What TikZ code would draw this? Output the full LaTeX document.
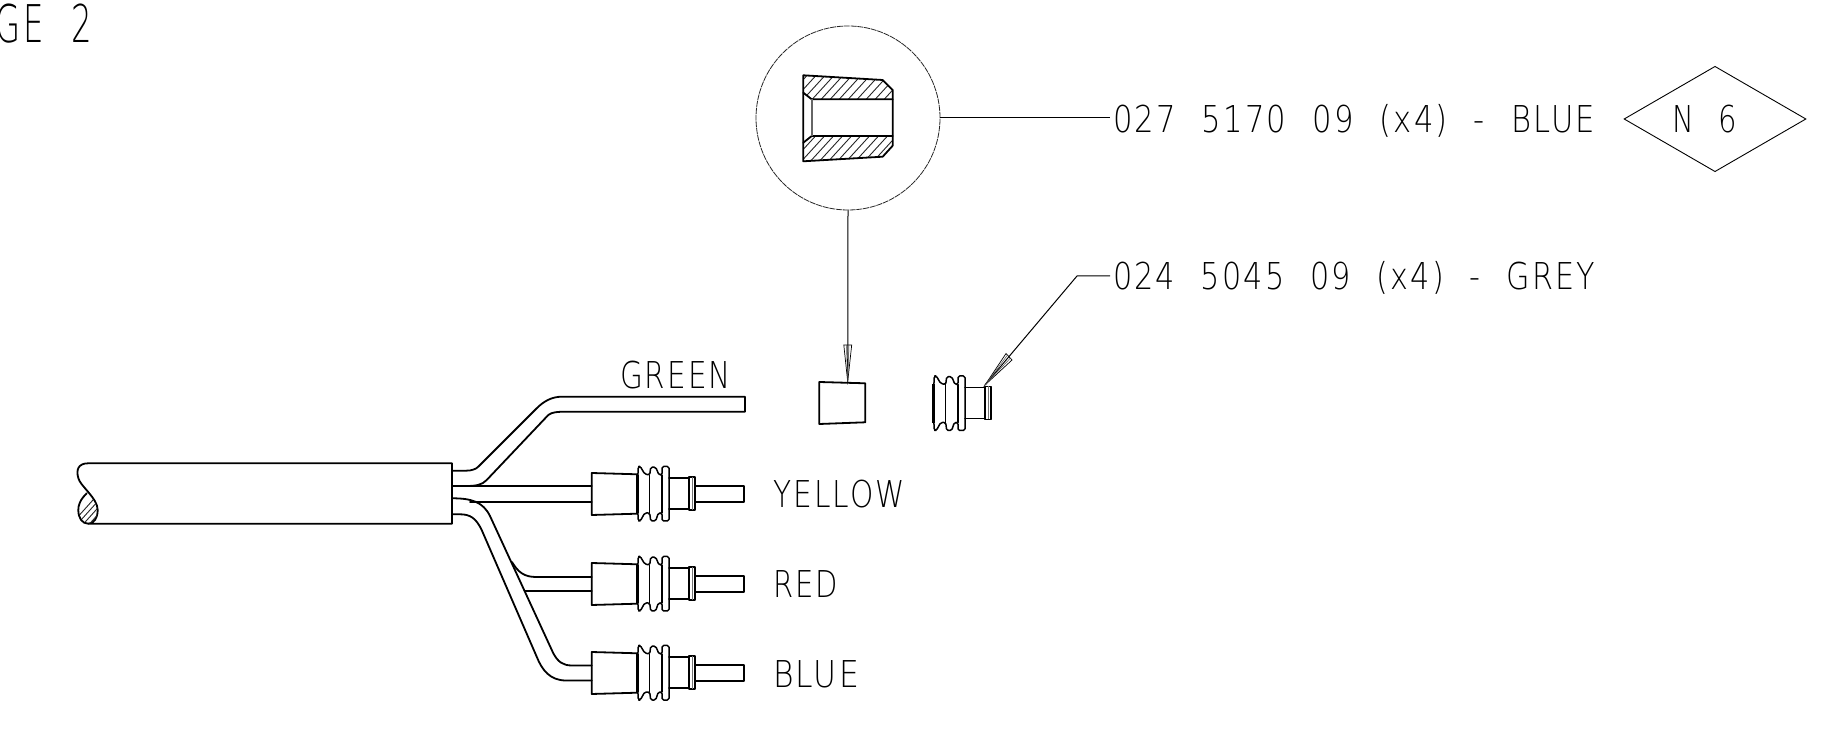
\documentclass[tikz,border=0pt]{standalone}
\usepackage{graphicx}
\usepackage{fontspec}
\usetikzlibrary{shapes.geometric}
\newfontfamily\cadfont[FakeStretch=0.85,LetterSpace=6,WordSpace=2.2]{DejaVu Sans ExtraLight}
\newcommand{\cadtext}[2]{\resizebox{#1}{\height}{\fontsize{18.5pt}{20pt}\selectfont\cadfont #2}}
\newcommand{\cadbig}[2]{\resizebox{#1}{\height}{\fontsize{26pt}{28pt}\selectfont\cadfont #2}}
\tikzset{
  obj/.style={line width=0.9pt,line join=round,line cap=round,black},
  sealline/.style={line width=0.75pt,line join=round,line cap=round,black},
  thin line/.style={line width=0.5pt,black},
  lab/.style={inner sep=0pt,outer sep=0pt,anchor=west,text=black},
  hatchline/.style={line width=0.45pt,black!85},
  sealpc/.pic={
    \draw[line width=1.2pt] (0,-19.2) -- (0,19.2);
    \draw[sealline,rounded corners=0.8pt] (0.6,-19) -- (1,-27.5) -- (3,-27.5) -- (7.4,-20) -- (12.4,-19) -- (13.4,-26.8) -- (18.4,-26.8) -- (21.7,-19) -- (24.7,-19) -- (24.7,-27.5) -- (31.7,-27.5) -- (31.7,27) -- (24.7,27) -- (24.7,19) -- (21,19) -- (18.4,27) -- (13.4,27) -- (12.4,19) -- (7.4,19) -- (3,27) -- (1,27) -- (0.6,19);
    \draw[sealline] (12.4,-19) -- (12.4,19) (24.7,-19) -- (24.7,19);
    \draw[obj] (31.7,-16) -- (51.7,-16) -- (51.7,15) -- (31.7,15);
    \draw[obj] (51.7,-17) -- (57.7,-17) -- (57.7,16) -- (51.7,16) -- cycle;
    \draw[line width=0.6pt,black!55] (55.2,-17) -- (55.2,16);
  },
  connpc/.pic={
    \draw[obj] (-45.6,-21) -- (0,-19.7) -- (0,19.7) -- (-45.6,21) -- cycle;
    \pic at (0,0) {sealpc};
    \draw[obj] (58,-8) -- (107,-8) -- (107,8) -- (58,8);
  }
}
\begin{document}
\begin{tikzpicture}[x=0.5pt,y=-0.5pt]
\useasboundingbox (0,0) rectangle (1842,731);
% detail circle
\node[circle,draw,line width=0.4pt,black!85,dash pattern=on 3pt off 0.4pt,minimum size=92pt,inner sep=0pt] (det) at (848,118) {};
% ferrule
\begin{scope}
\clip (803.3,75.3) -- (882.7,80) -- (892.7,90) -- (892.7,99.3) -- (811.7,99.3) -- (803.3,92.7) -- cycle;
\foreach \i in {0,...,14} \draw[hatchline] (780+9*\i,105) -- (780+9*\i+32,70);
\end{scope}
\begin{scope}
\clip (803.3,161.3) -- (882.7,156.7) -- (892.7,145.7) -- (892.7,136) -- (811.7,136) -- (803.3,142.7) -- cycle;
\foreach \i in {0,...,14} \draw[hatchline] (780+9*\i,165) -- (780+9*\i+32,130);
\end{scope}
\draw[obj] (803.3,75.3) -- (882.7,80) -- (892.7,90) -- (892.7,145.7) -- (882.7,156.7) -- (803.3,161.3) -- cycle;
\draw[obj] (803.3,92.7) -- (811.7,99.3) -- (892.7,99.3);
\draw[obj] (803.3,142.7) -- (811.7,136) -- (892.7,136);
\draw[line width=0.9pt,black!60] (811.7,99.3) -- (811.7,136);
% plug body
\draw[obj] (819.3,382) -- (865.3,383.3) -- (865.3,422.3) -- (819.3,424) -- cycle;
% loose seal
\pic at (933.3,403.5) {sealpc};
% leaders
\coordinate (tipa) at (847.7,381.7);
\draw[thin line] (det.south) -- (tipa);
\draw[line width=0.35pt] (tipa) -- (843.8,345) -- (851.7,345) -- cycle;
\draw[line width=0.25pt,black!70] (tipa) -- (846.4,345) (tipa) -- (849,345);
\coordinate (enda) at (1110,118);
\draw[thin line] (det.east) -- (enda);
\coordinate (endb) at (1110,276);
\coordinate (kneeb) at (1077,276);
\coordinate (tipb) at (985,385);
\draw[thin line] (endb) -- (kneeb) -- (tipb);
\draw[line width=0.35pt] (tipb) -- (1012,360) -- (1006,353.5) -- cycle;
\draw[line width=0.25pt,black!70] (tipb) -- (1010.5,358) (tipb) -- (1007.5,355);
% diamond
\node[diamond,draw,line width=0.45pt,minimum width=91pt,minimum height=52.7pt,inner sep=0pt,aspect=1.73] (dia) at (1715,119) {};
% cable
\draw[obj] (452,463.3) -- (88.3,463.3) .. controls (78,463.3) and (76,470) .. (78.3,478) .. controls (80,486) and (97.7,498) .. (97.7,510) .. controls (97.7,518) and (94,523.7) .. (88.3,523.7) -- (452,523.7) -- cycle;
\begin{scope}
\clip (86.7,493.3) .. controls (80,500) and (78.3,505) .. (78.3,510) .. controls (78.3,518) and (82,523.7) .. (88.3,523.7) .. controls (94,523.7) and (97.7,518) .. (97.7,510) .. controls (97.7,503) and (92,498) .. (86.7,493.3) -- cycle;
\foreach \i in {0,...,8} \draw[hatchline] (66+6*\i,530) -- (66+6*\i+36,490);
\end{scope}
\draw[obj] (86.7,493.3) .. controls (80,500) and (78.3,505) .. (78.3,510) .. controls (78.3,518) and (82,523.7) .. (88.3,523.7);
% green wire
\draw[obj] (452,470.7) -- (466,470.7) .. controls (472,470.7) and (476,469) .. (478.3,466.7) -- (536.7,408.3) .. controls (544,401) and (552,396.7) .. (562,396.7) -- (745,396.7) -- (745,411.7) -- (566,411.7) .. controls (558,411.7) and (552,412) .. (548.3,415) -- (486.7,480) .. controls (482,485) and (476,486) .. (466,486);
% yellow wire
\draw[obj] (452,486) -- (591.7,486);
\draw[obj] (470,501.7) -- (591.7,501.7);
\draw[obj] (452,498.3) .. controls (472,498.3) and (483,502) .. (490,516) -- (553.3,653.3) .. controls (558,662) and (563,665.5) .. (572,665.5) -- (591.7,665.5);
% red branch
\draw[obj] (512,562) .. controls (518,572) and (524,577) .. (536,577) -- (591.7,577);
\draw[obj] (525,591) -- (591.7,591);
% blue wire
\draw[obj] (452,514.3) -- (460,514.3) .. controls (470,514.3) and (476,518) .. (481.7,530) -- (536.7,656.7) .. controls (542,670) and (550,680.5) .. (566,680.5) -- (591.7,680.5);
% connectors
\pic at (637.3,494) {connpc};
\pic at (637.3,584) {connpc};
\pic at (637.3,673) {connpc};
% labels
\node[lab] (ttop) at (-4,24) {\cadbig{48pt}{GE 2}};
\node[lab] (t1) at (1113,121) {\cadtext{241pt}{027 5170 09 (x4) - BLUE}};
\node[lab] (t2) at (1113,278) {\cadtext{241pt}{024 5045 09 (x4) - GREY}};
\node[lab] (t6) at (1672,119) {\cadtext{32.5pt}{N 6}};
\node[lab] (tg) at (620,375) {\cadtext{55.5pt}{GREEN}};
\node[lab] (ty) at (773,494) {\cadtext{66pt}{YELLOW}};
\node[lab] (tr) at (773,584) {\cadtext{32.5pt}{RED}};
\node[lab] (tb) at (773,674) {\cadtext{43pt}{BLUE}};
\end{tikzpicture}
\end{document}
